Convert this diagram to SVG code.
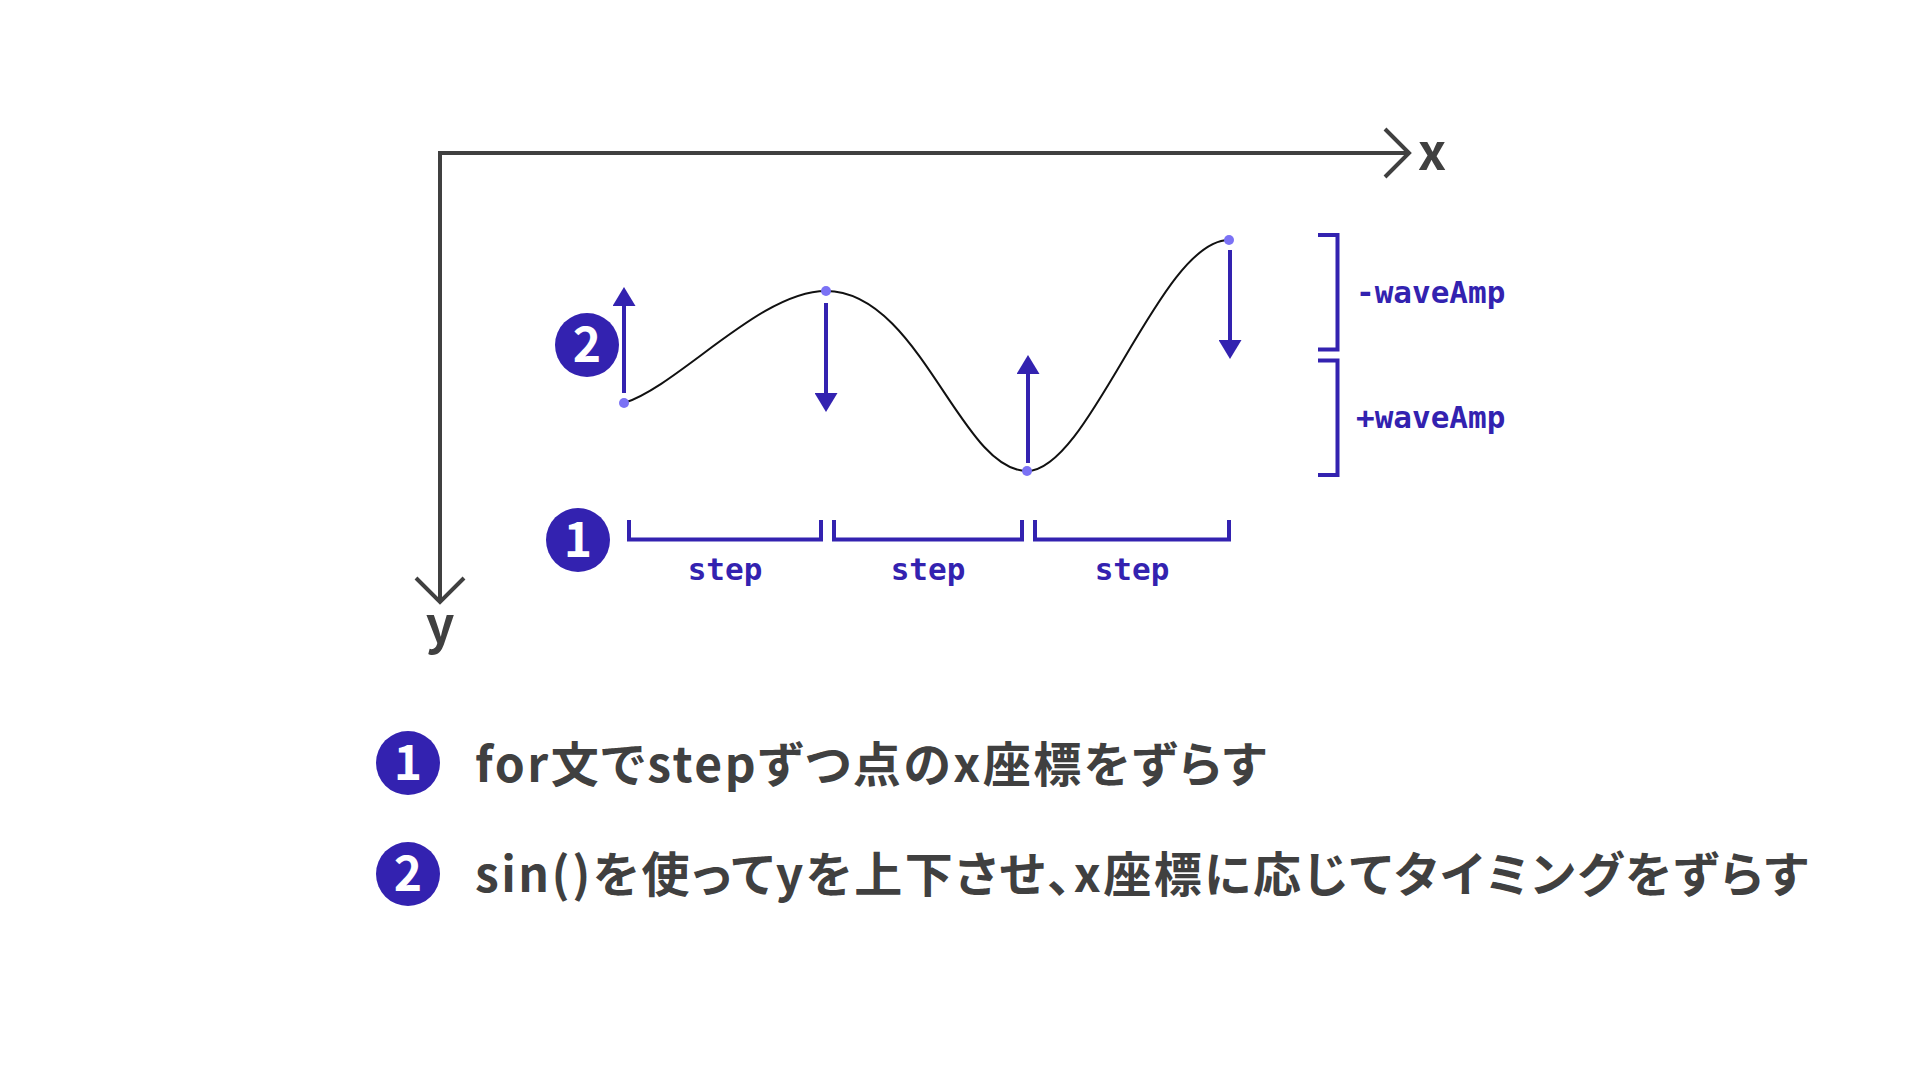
<svg xmlns="http://www.w3.org/2000/svg" width="1920" height="1080" viewBox="0 0 1920 1080">
<style>
.axis{fill:none;stroke:#404040;stroke-width:4;stroke-linejoin:miter}
.axlbl{font-family:"Noto Sans CJK JP","Noto Sans",sans-serif;font-weight:700;font-size:50px;fill:#404040;text-anchor:middle}
.wave{fill:none;stroke:#111111;stroke-width:2}
.dot{fill:#7B72F5}
.arr{stroke:#3322B0;stroke-width:4;fill:none}
.brk{fill:none;stroke:#3322B0;stroke-width:4}
.code{font-family:"DejaVu Sans Mono","Liberation Mono",monospace;font-weight:700;font-size:31px;fill:#3322B0}
.badge{fill:#3322B0}
.num{font-family:"Noto Sans CJK JP","Noto Sans",sans-serif;font-weight:700;font-size:48px;fill:#ffffff;text-anchor:middle}
.desc{font-family:"Noto Sans CJK JP","Noto Sans CJK SC",sans-serif;font-weight:700;font-size:48px;fill:#404040;letter-spacing:2.5px;font-feature-settings:"palt"}
</style>
<defs>
<marker id="ah" viewBox="0 0 19 23" refX="1" refY="11.5" markerWidth="19" markerHeight="23" markerUnits="userSpaceOnUse" orient="auto">
<path d="M0,0 L19,11.5 L0,23 Z" fill="#3322B0"/>
</marker>
</defs>
<rect width="1920" height="1080" fill="#ffffff"/>

<g id="axes">
<path class="axis" d="M1408,153 H440 V601"/>
<polyline class="axis" points="1385,129 1409,153 1385,177"/>
<polyline class="axis" points="416,578 440,602 464,578"/>
<text class="axlbl" x="1432" y="170">x</text>
<text class="axlbl" x="440" y="643">y</text>
</g>

<g id="wave">
<path class="wave" d="M624,403 C680,385 760,291 826,291 C920,291 960,471 1027,471 C1090,471 1160,240 1229,240"/>
<circle class="dot" cx="624" cy="403" r="5"/>
<circle class="dot" cx="826" cy="291" r="5"/>
<circle class="dot" cx="1027" cy="471" r="5"/>
<circle class="dot" cx="1229" cy="240" r="5"/>
</g>

<g id="connectors">
<line class="arr" x1="624" y1="393" x2="624" y2="305" marker-end="url(#ah)"/>
<line class="arr" x1="826" y1="303" x2="826" y2="394" marker-end="url(#ah)"/>
<line class="arr" x1="1028" y1="463" x2="1028" y2="373" marker-end="url(#ah)"/>
<line class="arr" x1="1230" y1="250" x2="1230" y2="341" marker-end="url(#ah)"/>
</g>

<g id="amp-brackets">
<path class="brk" d="M1318,235 H1337.5 V349.5 H1318"/>
<path class="brk" d="M1318,360.5 H1337.5 V475 H1318"/>
<text class="code" x="1356" y="303">-waveAmp</text>
<text class="code" x="1356" y="428">+waveAmp</text>
</g>

<g id="step-brackets">
<path class="brk" d="M629,520 V539.5 H821 V520"/>
<path class="brk" d="M834,520 V539.5 H1022 V520"/>
<path class="brk" d="M1035,520 V539.5 H1229 V520"/>
<text class="code" x="725" y="580" text-anchor="middle">step</text>
<text class="code" x="928" y="580" text-anchor="middle">step</text>
<text class="code" x="1132" y="580" text-anchor="middle">step</text>
</g>

<g id="badge-2-diagram">
<circle class="badge" cx="587" cy="345" r="32"/>
<text class="num" x="587" y="362">2</text>
</g>
<g id="badge-1-diagram">
<circle class="badge" cx="578" cy="540" r="32"/>
<text class="num" x="578" y="557">1</text>
</g>

<g id="note-1">
<circle class="badge" cx="408" cy="763" r="32"/>
<text class="num" x="408" y="780">1</text>
<text class="desc" x="475" y="782">for文でstepずつ点のx座標をずらす</text>
</g>
<g id="note-2">
<circle class="badge" cx="408" cy="874" r="32"/>
<text class="num" x="408" y="891">2</text>
<text class="desc" x="475" y="892">sin()を使ってyを上下させ、x座標に応じてタイミングをずらす</text>
</g>
</svg>
